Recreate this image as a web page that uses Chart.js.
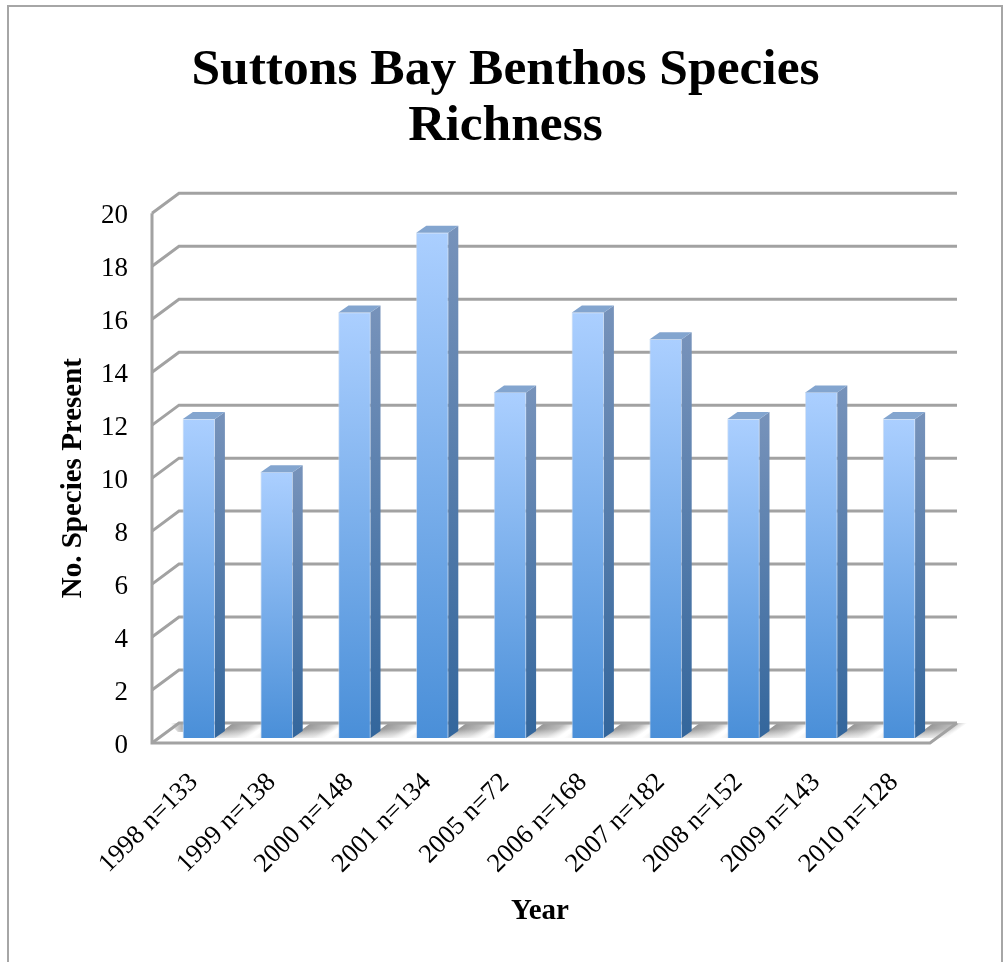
<!DOCTYPE html>
<html>
<head>
<meta charset="utf-8">
<style>html,body{margin:0;padding:0;background:#fff;overflow:hidden}canvas{display:block}</style>
<script src="https://cdn.jsdelivr.net/npm/chart.js@4"></script>
</head>
<body>
<canvas id="chart" width="1005" height="962"></canvas>
<script>
// Benthos species counts per sampling year, with the sample size in each label.
const categories = ['1998 n=133','1999 n=138','2000 n=148','2001 n=134','2005 n=72','2006 n=168','2007 n=182','2008 n=152','2009 n=143','2010 n=128'];
const speciesCounts = [12,10,16,19,13,16,15,12,13,12];
const chartTitle = ['Suttons Bay Benthos Species','Richness'];
const xAxisTitle = 'Year';
const yAxisTitle = 'No. Species Present';

const SERIF = '"Liberation Serif", serif';
const GRID = '#a2a2a2';
const WALL_DX = 27, WALL_DY = 20;   // depth of the box the bars stand in
const BAR_DX = 10, BAR_DY = 7;      // depth of each bar
const FLOOR_INSET = 8, BASE_LIFT = 5; // bars stand slightly behind the front edge

function poly(ctx, pts, fill) {
  ctx.beginPath();
  pts.forEach((p, i) => i ? ctx.lineTo(p[0], p[1]) : ctx.moveTo(p[0], p[1]));
  ctx.closePath();
  ctx.fillStyle = fill;
  ctx.fill();
}
function vGrad(ctx, y0, y1, a, b) {
  const g = ctx.createLinearGradient(0, y0, 0, y1);
  g.addColorStop(0, a); g.addColorStop(1, b);
  return g;
}

// Draws the outer frame, the back wall, the side wall and the floor with its shadows.
const boxPlugin = {
  id: 'box',
  afterLayout(chart) {
    // The heading and the horizontal axis title sit off the plot centre
    chart.titleBlock.left += 13;
    const xScale = chart.scales.x;
    if (!xScale.shiftedTitle) {
      const drawTitle = xScale.drawTitle;
      xScale.drawTitle = function () {
        chart.ctx.save();
        chart.ctx.translate(-9, 0);
        drawTitle.call(this);
        chart.ctx.restore();
      };
      xScale.shiftedTitle = true;
    }
  },
  beforeDatasetsDraw(chart) {
    const {ctx, chartArea: area, scales} = chart;
    const y = scales.y;
    const x0 = area.left - FLOOR_INSET, x1 = area.right - FLOOR_INSET;
    ctx.save();

    ctx.strokeStyle = '#a6a6a6';
    ctx.lineWidth = 2;
    ctx.strokeRect(8, 6, 994, 990);

    const bars = chart.getDatasetMeta(0).data;
    const base = bars[0].base;
    const floorBack = y.getPixelForValue(0) - WALL_DY;

    // Soft shadows thrown across the floor behind each bar
    bars.forEach((b, i) => {
      const last = i === bars.length - 1;
      const ax = b.x + b.width / 2 - 2;
      const D = 60;
      const rise = base - floorBack;
      const run = rise * WALL_DX / WALL_DY;
      const s = WALL_DY / Math.hypot(WALL_DX, WALL_DY);
      const c = WALL_DX / Math.hypot(WALL_DX, WALL_DY);
      const g = ctx.createLinearGradient(ax, base, ax + D * s * s, base + D * s * c);
      g.addColorStop(0, '#969696');
      g.addColorStop(0.35, '#bababa');
      g.addColorStop(0.57, '#ffffff');
      g.addColorStop(0.65, '#ffffff');
      g.addColorStop(0.8, last ? '#ffffff' : '#d4d4d4');
      g.addColorStop(1, last ? '#ffffff' : '#b5b5b5');
      poly(ctx, [[ax, base], [ax + D, base], [ax + D + run, floorBack], [ax + run, floorBack]], g);
    });

    // Faint shadow just left of the first bar, and the fade towards the front of the floor
    const firstLeft = bars[0].x - bars[0].width / 2;
    const lead = ctx.createLinearGradient(firstLeft - 12, 0, firstLeft, 0);
    lead.addColorStop(0, 'rgba(170,170,170,0)');
    lead.addColorStop(1, 'rgba(170,170,170,1)');
    poly(ctx, [[firstLeft - 5, base - 6], [firstLeft, base - 6], [firstLeft, floorBack], [firstLeft - 14, floorBack]], lead);
    const fade = ctx.createLinearGradient(0, base - 9, 0, base);
    fade.addColorStop(0, 'rgba(255,255,255,0)');
    fade.addColorStop(1, 'rgba(255,255,255,0.75)');
    poly(ctx, [[x0, base], [x1 + WALL_DX, base], [x1 + WALL_DX, base - 9], [x0, base - 9]], fade);

    // Grid lines run along the side wall and then across the back wall
    ctx.strokeStyle = GRID;
    ctx.lineWidth = 3;
    ctx.lineJoin = 'miter';
    y.ticks.forEach(t => {
      const py = y.getPixelForValue(t.value);
      ctx.beginPath();
      ctx.moveTo(x0, py);
      ctx.lineTo(x0 + WALL_DX, py - WALL_DY);
      ctx.lineTo(x1 + WALL_DX, py - WALL_DY);
      ctx.stroke();
    });

    // Front edges of the side wall and of the floor
    const top = y.getPixelForValue(20), bottom = y.getPixelForValue(0);
    ctx.beginPath();
    ctx.moveTo(x0, top);
    ctx.lineTo(x0, bottom);
    ctx.lineTo(x1, bottom);
    ctx.lineTo(x1 + WALL_DX, bottom - WALL_DY);
    ctx.stroke();
    ctx.restore();
  },
  // Side and top faces of each bar
  afterDatasetsDraw(chart) {
    const {ctx} = chart;
    ctx.save();
    chart.getDatasetMeta(0).data.forEach(b => {
      const l = b.x - b.width / 2, r = b.x + b.width / 2;
      poly(ctx, [[r, b.y], [r + BAR_DX, b.y - BAR_DY], [r + BAR_DX, b.base - BAR_DY], [r, b.base]],
        vGrad(ctx, b.y, b.base, '#7692ba', '#33669c'));
      poly(ctx, [[l, b.y], [r, b.y], [r + BAR_DX, b.y - BAR_DY], [l + BAR_DX, b.y - BAR_DY]], '#83a5cf');
    });
    ctx.restore();
  }
};

new Chart(document.getElementById('chart'), {
  type: 'bar',
  plugins: [boxPlugin],
  data: {
    labels: categories,
    datasets: [{
      data: speciesCounts,
      yAxisID: 'yBars',
      barThickness: 32,
      borderWidth: 1,
      borderColor: 'rgba(190,212,240,0.6)',
      backgroundColor(c) {
        const chart = c.chart;
        if (!chart.chartArea || c.parsed === undefined || c.parsed === null) return '#6fa5e6';
        const s = chart.scales.yBars;
        return vGrad(chart.ctx, s.getPixelForValue(c.parsed.y), s.getPixelForValue(0), '#abcfff', '#4a8fd8');
      }
    }]
  },
  options: {
    responsive: false,
    animation: false,
    layout: {padding: {left: 60, right: 67, top: 43, bottom: 30}},
    plugins: {
      legend: {display: false},
      tooltip: {enabled: false},
      title: {
        display: true,
        text: chartTitle,
        color: '#000',
        font: {family: SERIF, size: 51.5, weight: 'bold', lineHeight: 1.09},
        padding: {top: 0, bottom: 58}
      }
    },
    scales: {
      x: {
        grid: {display: false, drawTicks: false},
        border: {display: false},
        ticks: {color: '#000', font: {family: SERIF, size: 26.5}, minRotation: 45, maxRotation: 45, padding: 24, labelOffset: -5, autoSkip: false},
        title: {display: true, text: xAxisTitle, color: '#000', font: {family: SERIF, size: 29, weight: 'bold'}, padding: {top: 0, bottom: 3}},
        afterFit(s) { s.height = 189; }
      },
      y: {
        min: 0, max: 20,
        grid: {display: false, drawTicks: false},
        border: {display: false},
        ticks: {stepSize: 2, color: '#000', font: {family: SERIF, size: 27}, padding: 32, labelOffset: 3},
        title: {display: true, text: yAxisTitle, color: '#000', font: {family: SERIF, size: 29, weight: 'bold'}, padding: {top: -4, bottom: 0}},
        afterFit(s) { s.width = 100; }
      },
      // Same units as the tick axis, lifted a little so bars stand inside the box
      yBars: {
        display: false,
        min: -BASE_LIFT / 26.6,
        max: 525 / 26.6
      }
    }
  }
});
</script>
</body>
</html>
